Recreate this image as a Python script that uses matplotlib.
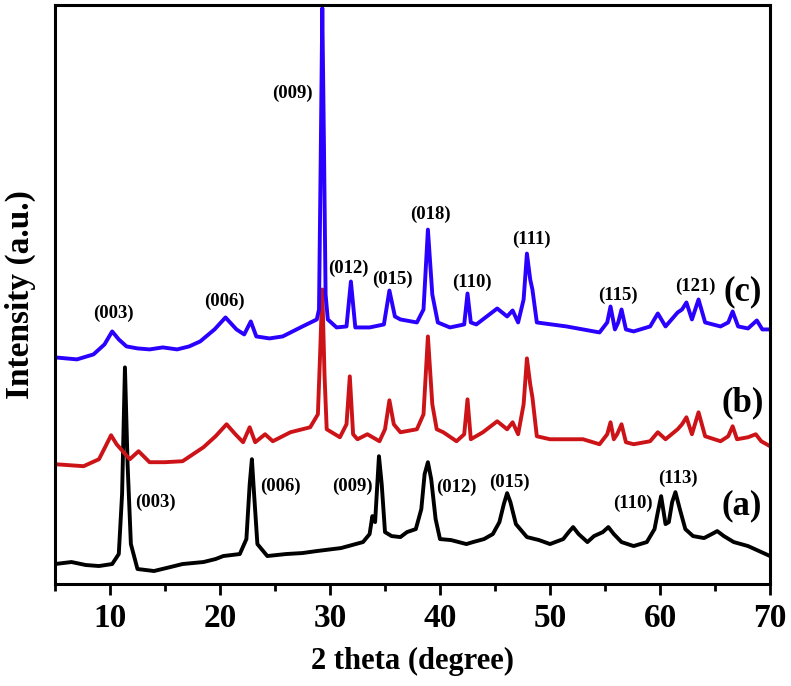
import matplotlib
matplotlib.use("Agg")
import matplotlib.pyplot as plt
from matplotlib.ticker import MultipleLocator

### XRD patterns (2 theta in degree, intensity in a.u.)
tt_a = [5.0, 6.5, 7.8, 9.0, 10.2, 10.8, 11.1, 11.36, 11.6, 11.9, 12.5, 14.0, 15.5, 16.6,
        18.5, 19.6, 20.3, 21.8, 22.4, 22.7, 22.9, 23.1, 23.4, 24.3, 26.0, 27.5, 28.8, 31.0,
        33.0, 33.6, 33.85, 34.1, 34.45, 34.7, 35.0, 35.6, 36.4, 37.0, 37.8, 38.3, 38.6, 38.9,
        39.2, 39.6, 40.0, 41.0, 42.4, 43.0, 44.0, 44.8, 45.4, 45.8, 46.1, 46.4, 46.9, 47.9,
        49.0, 50.0, 51.2, 51.7, 52.1, 52.6, 53.4, 54.0, 54.8, 55.3, 55.8, 56.5, 57.6, 58.8,
        59.5, 59.8, 60.1, 60.5, 60.8, 61.1, 61.4, 61.8, 62.3, 63.0, 64.0, 64.7, 65.2, 65.8,
        66.7, 68.0, 69.0, 70.0]
int_a = [20, 22, 19, 18, 20, 30, 90, 217, 120, 40, 15, 13, 17, 20,
         22, 25, 28, 30, 45, 100, 125, 90, 40, 28, 30, 31, 33, 36,
         42, 50, 68, 62, 128, 100, 52, 48, 47, 52, 55, 75, 110, 122,
         105, 65, 45, 44, 40, 42, 45, 50, 62, 80, 91, 82, 60, 47,
         44, 40, 45, 52, 57, 50, 42, 48, 52, 57, 50, 42, 38, 42,
         55, 72, 88, 60, 62, 82, 92, 75, 55, 48, 46, 50, 53, 48,
         42, 38, 33, 28]

tt_b = [5.0, 7.6, 9.0, 9.6, 10.1, 10.6, 11.0, 11.8, 12.6, 13.6, 15.0, 16.6, 18.5, 19.6,
        20.6, 21.4, 22.1, 22.7, 23.2, 24.1, 24.8, 26.4, 28.2, 28.9, 29.1, 29.3, 29.5, 29.7,
        30.9, 31.5, 31.8, 32.1, 32.5, 33.4, 34.5, 35.0, 35.4, 35.8, 36.4, 37.9, 38.5, 38.9,
        39.3, 39.7, 40.3, 41.5, 42.2, 42.5, 42.8, 43.9, 45.2, 46.1, 46.6, 47.1, 47.6, 47.9,
        48.2, 48.4, 48.8, 50.0, 53.0, 54.5, 55.2, 55.5, 55.8, 56.1, 56.5, 56.9, 57.6, 59.1,
        59.8, 60.5, 61.6, 62.0, 62.4, 62.9, 63.5, 64.1, 65.5, 66.2, 66.6, 67.0, 68.0, 68.7,
        69.2, 70.0]
int_b = [120, 118, 125, 138, 149, 140, 135, 125, 133, 122, 122, 123, 137, 148,
         160, 150, 142, 157, 142, 150, 143, 152, 157, 170, 230, 295, 210, 155,
         147, 160, 208, 150, 145, 150, 143, 155, 184, 160, 152, 155, 170, 248,
         180, 155, 152, 143, 150, 185, 145, 152, 163, 155, 162, 150, 180, 226,
         200, 187, 148, 145, 145, 140, 150, 162, 145, 150, 160, 142, 140, 143,
         152, 145, 155, 160, 167, 150, 172, 148, 143, 148, 158, 145, 147, 150,
         143, 138]

tt_c = [5.0, 7.0, 8.5, 9.5, 10.2, 10.8, 11.5, 12.5, 13.6, 14.8, 16.1, 17.2, 18.2, 19.5,
        20.5, 21.5, 22.2, 22.8, 23.3, 24.5, 25.7, 27.5, 28.8, 29.0, 29.15, 29.3, 29.45, 29.6,
        29.8, 30.6, 31.5, 31.9, 32.3, 33.6, 34.9, 35.4, 35.9, 36.4, 37.9, 38.5, 38.9, 39.3,
        39.8, 40.9, 42.2, 42.5, 42.8, 43.3, 45.2, 46.1, 46.6, 47.1, 47.6, 47.9, 48.2, 48.4,
        48.8, 51.5, 54.5, 55.2, 55.5, 55.9, 56.2, 56.5, 56.9, 57.6, 59.1, 59.8, 60.5, 61.6,
        62.0, 62.4, 62.9, 63.5, 64.1, 65.5, 66.2, 66.6, 67.1, 68.0, 68.8, 69.3, 70.0]
int_c = [227, 225, 230, 240, 253, 245, 238, 236, 235, 237, 235, 238, 243, 255,
         267, 255, 250, 263, 248, 246, 248, 258, 265, 275, 420, 577, 440, 290,
         265, 257, 258, 303, 257, 257, 260, 294, 268, 265, 262, 275, 355, 290,
         262, 257, 260, 291, 262, 260, 276, 268, 274, 262, 285, 331, 305, 295,
         262, 258, 252, 262, 278, 255, 262, 275, 255, 253, 258, 271, 258, 272,
         275, 282, 265, 285, 262, 258, 262, 273, 258, 256, 264, 255, 255]

# peak indices and where their labels sit
hkl_c = ["(003)", "(006)", "(009)", "(012)", "(015)", "(018)", "(110)", "(111)", "(115)", "(121)"]
hkl_c_x = [10.3, 20.4, 26.6, 31.7, 35.7, 39.1, 42.9, 48.3, 56.2, 63.2]
hkl_c_y = [271, 283, 492, 316, 305, 370, 302, 345, 289, 298]

hkl_a = ["(003)", "(006)", "(009)", "(012)", "(015)", "(110)", "(113)"]
hkl_a_x = [14.1, 25.5, 32.0, 41.5, 46.3, 57.5, 61.6]
hkl_a_y = [82, 98, 98, 97, 102, 81, 106]

sample_names = ["(a)", "(b)", "(c)"]
sample_x = [67.4, 67.5, 67.5]
sample_y = [78, 181, 293]

###############################################################################
plt.rcParams['font.family'] = ['Liberation Serif', 'DejaVu Serif']
plt.rcParams['font.weight'] = 'bold'

fig = plt.figure(figsize=(7.91, 6.86), dpi=100)
ax = fig.add_axes([0.0695, 0.1487, 0.904, 0.844])

ax.plot(tt_a, int_a, color='black', lw=2.8)
ax.plot(tt_b, int_b, color='#cc1418', lw=2.8)
ax.plot(tt_c, int_c, color='#2a00ff', lw=2.8)

for lab, x, y in zip(hkl_c, hkl_c_x, hkl_c_y):
    ax.text(x, y, lab, ha='center', va='center', fontsize=13.5, fontweight='bold')
for lab, x, y in zip(hkl_a, hkl_a_x, hkl_a_y):
    ax.text(x, y, lab, ha='center', va='center', fontsize=13.5, fontweight='bold')
for lab, x, y in zip(sample_names, sample_x, sample_y):
    ax.text(x, y, lab, ha='center', va='center', fontsize=25, fontweight='bold')

ax.set_xlim(5, 70)
ax.set_ylim(0, 580)
ax.xaxis.set_major_locator(MultipleLocator(10))
ax.xaxis.set_minor_locator(MultipleLocator(5))
ax.set_yticks([])
ax.tick_params(axis='x', which='major', direction='out', length=8, width=2,
               labelsize=24, pad=6)
ax.tick_params(axis='x', which='minor', direction='out', length=5, width=2)
for sp in ax.spines.values():
    sp.set_linewidth(2.2)

ax.set_xlabel('2 theta (degree)', fontsize=22, fontweight='bold', labelpad=9)
ax.set_ylabel('Intensity (a.u.)', fontsize=24, fontweight='bold')
ax.yaxis.set_label_coords(-0.026, 0.5)

fig.savefig('out.png', dpi=100)
